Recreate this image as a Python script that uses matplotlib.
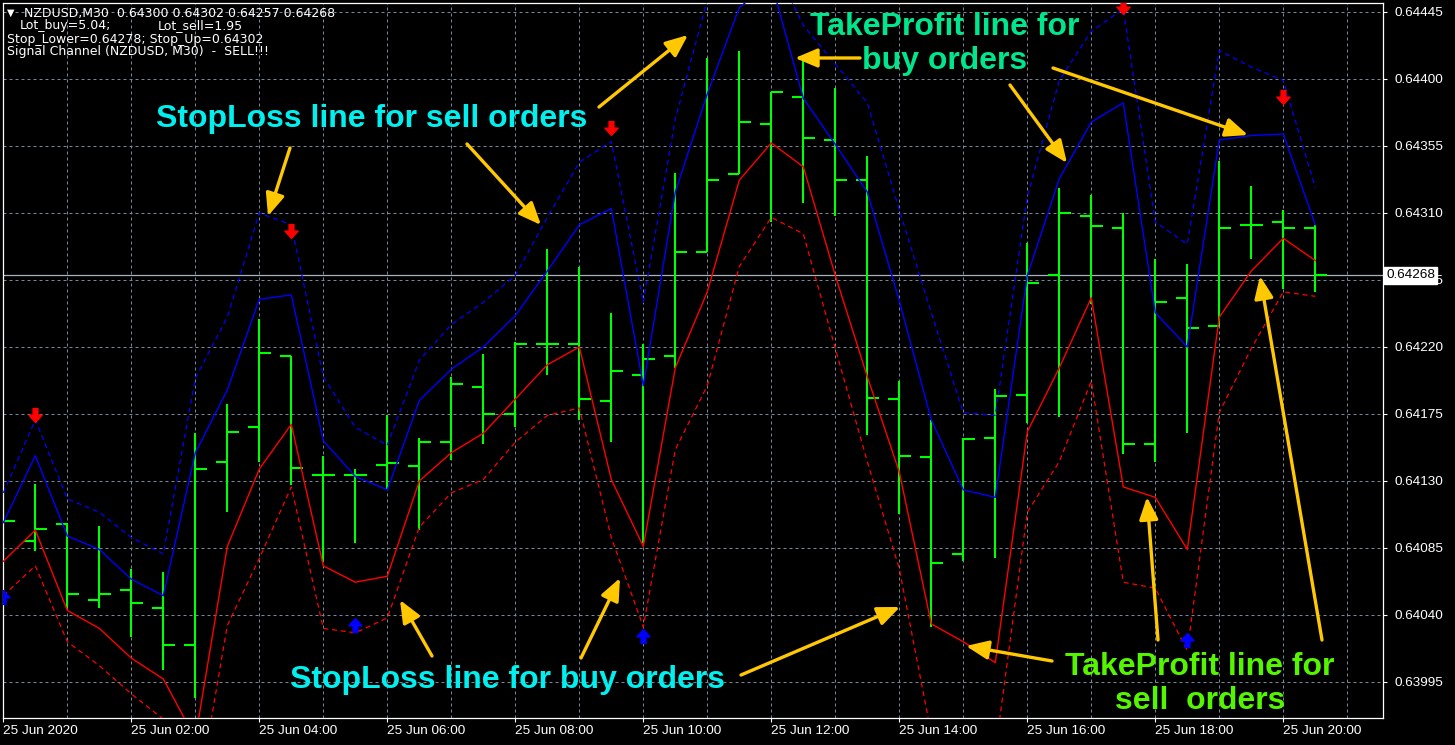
import numpy as np
import matplotlib.pyplot as plt
from matplotlib.path import Path
from matplotlib.transforms import blended_transform_factory

W, H = 1455, 745

# NZDUSD M30, 25 Jun 2020 00:00 .. 20:30
bar_open = [0.64112, 0.64090, 0.64101, 0.64050, 0.64057, 0.64045, 0.64020, 0.64143, 0.64166, 0.64214,
            0.64134, 0.64134, 0.64141, 0.64140, 0.64156, 0.64193, 0.64175, 0.64222, 0.64222, 0.64184,
            0.64201, 0.64214, 0.64284, 0.64336, 0.64370, 0.64388, 0.64359, 0.64332, 0.64185, 0.64146,
            0.64081, 0.64159, 0.64188, 0.64268, 0.64308, 0.64300, 0.64155, 0.64253, 0.64234, 0.64302,
            0.64304, 0.64300]
bar_high = [0.64122, 0.64128, 0.64102, 0.64100, 0.64071, 0.64069, 0.64162, 0.64182, 0.64239, 0.64214,
            0.64147, 0.64138, 0.64174, 0.64159, 0.64200, 0.64215, 0.64223, 0.64286, 0.64274, 0.64243,
            0.64222, 0.64337, 0.64414, 0.64419, 0.64391, 0.64412, 0.64394, 0.64348, 0.64197, 0.64171,
            0.64159, 0.64192, 0.64290, 0.64327, 0.64322, 0.64310, 0.64279, 0.64276, 0.64345, 0.64328,
            0.64312, 0.64302]
bar_low = [0.64079, 0.64083, 0.64045, 0.64045, 0.64025, 0.64003, 0.63984, 0.64109, 0.64143, 0.64127,
           0.64076, 0.64088, 0.64124, 0.64097, 0.64144, 0.64155, 0.64166, 0.64201, 0.64171, 0.64156,
           0.64088, 0.64206, 0.64284, 0.64336, 0.64304, 0.64317, 0.64308, 0.64161, 0.64108, 0.64032,
           0.64076, 0.64078, 0.64169, 0.64173, 0.64249, 0.64148, 0.64143, 0.64162, 0.64234, 0.64279,
           0.64259, 0.64257]
bar_close = [0.64103, 0.64098, 0.64054, 0.64054, 0.64048, 0.64020, 0.64138, 0.64163, 0.64216, 0.64139,
             0.64134, 0.64134, 0.64142, 0.64156, 0.64195, 0.64175, 0.64222, 0.64222, 0.64185, 0.64204,
             0.64212, 0.64284, 0.64332, 0.64371, 0.64391, 0.64360, 0.64332, 0.64186, 0.64147, 0.64075,
             0.64158, 0.64187, 0.64263, 0.64310, 0.64301, 0.64155, 0.64250, 0.64233, 0.64300, 0.64302,
             0.64300, 0.64268]

# channel lines
tp_buy = [0.64102, 0.64147, 0.64093, 0.64084, 0.64064, 0.64053, 0.64149, 0.64191, 0.64252, 0.64255,
          0.64157, 0.64133, 0.64124, 0.64184, 0.64205, 0.64220, 0.64241, 0.64271, 0.64302, 0.64313,
          0.64194, 0.64324, 0.64390, 0.64448, 0.64465, 0.64387, 0.64356, 0.64324, 0.64251, 0.64171,
          0.64124, 0.64119, 0.64268, 0.64333, 0.64371, 0.64384, 0.64243, 0.64220, 0.64359, 0.64362,
          0.64363, 0.64302]
sl_sell = [0.64122, 0.64171, 0.64118, 0.64109, 0.64092, 0.64081, 0.64199, 0.64240, 0.64310, 0.64302,
           0.64200, 0.64166, 0.64154, 0.64211, 0.64235, 0.64250, 0.64268, 0.64307, 0.64344, 0.64358,
           0.64250, 0.64373, 0.64453, 0.64483, 0.64480, 0.64436, 0.64410, 0.64384, 0.64312, 0.64243,
           0.64176, 0.64174, 0.64321, 0.64399, 0.64432, 0.64447, 0.64304, 0.64289, 0.64419, 0.64408,
           0.64399, 0.64327]
tp_sell = [0.64076, 0.64097, 0.64043, 0.64031, 0.64011, 0.63997, 0.63957, 0.64086, 0.64138, 0.64168,
           0.64073, 0.64062, 0.64066, 0.64130, 0.64149, 0.64162, 0.64185, 0.64208, 0.64220, 0.64131,
           0.64086, 0.64206, 0.64257, 0.64332, 0.64357, 0.64341, 0.64268, 0.64200, 0.64136, 0.64034,
           0.64022, 0.64008, 0.64163, 0.64206, 0.64253, 0.64126, 0.64119, 0.64084, 0.64240, 0.64271,
           0.64293, 0.64278]
sl_buy = [0.64053, 0.64073, 0.64022, 0.64006, 0.63987, 0.63970, 0.63907, 0.64033, 0.64078, 0.64126,
          0.64031, 0.64028, 0.64038, 0.64099, 0.64122, 0.64131, 0.64156, 0.64174, 0.64179, 0.64092,
          0.64032, 0.64151, 0.64194, 0.64274, 0.64307, 0.64296, 0.64219, 0.64143, 0.64071, 0.63960,
          0.63937, 0.63948, 0.64109, 0.64143, 0.64197, 0.64062, 0.64058, 0.64016, 0.64176, 0.64219,
          0.64257, 0.64254]

# signal arrows
sell_bars = [1, 9, 19, 35, 40]
sell_price = [0.64174, 0.64298, 0.64367, 0.64448, 0.64388]
buy_bars = [0, 11, 20, 37]
buy_price = [0.64052, 0.64033, 0.64026, 0.64023]

price_ticks = [0.63995, 0.64040, 0.64085, 0.64130, 0.64175, 0.64220, 0.64265,
               0.64310, 0.64355, 0.64400, 0.64445]
time_tick_bars = [0, 4, 8, 12, 16, 20, 24, 28, 32, 36, 40]
time_labels = ['25 Jun 2020', '25 Jun 02:00', '25 Jun 04:00', '25 Jun 06:00', '25 Jun 08:00',
               '25 Jun 10:00', '25 Jun 12:00', '25 Jun 14:00', '25 Jun 16:00', '25 Jun 18:00',
               '25 Jun 20:00']
last_price = 0.64268

fig = plt.figure(figsize=(W / 100, H / 100), dpi=100, facecolor='black')
ax = fig.add_axes([2.7 / W, 27 / H, (1383 - 2.7) / W, 715 / H])
ax.set_facecolor('black')
ax.set_xlim(-0.019, 43.116)
ax.set_ylim(0.639708, 0.644510)

grid_kw = dict(color='#778899', lw=0.72, ls=(0, (3, 3)), zorder=0.5)
for p in price_ticks:
    ax.axhline(p, **grid_kw)
for b in range(2, 44, 2):
    ax.axvline(b, **grid_kw)
ax.axhline(last_price, color='#A8B0BC', lw=0.9, zorder=1)

# OHLC bars
x = np.arange(len(bar_open))
tick = 0.36
bar_kw = dict(color='#00FF00', lw=1.5, zorder=2, capstyle='butt')
ax.vlines(x, bar_low, bar_high, **bar_kw)
ax.hlines(bar_open, x - tick, x, **bar_kw)
ax.hlines(bar_close, x, x + tick, **bar_kw)

# channel lines
ax.plot(x, tp_buy, color='#0000FF', lw=1.0, zorder=3)
ax.plot(x, sl_sell, color='#0000FF', lw=0.9, ls=(0, (4, 3)), zorder=3)
ax.plot(x, tp_sell, color='#FF0000', lw=1.0, zorder=3)
ax.plot(x, sl_buy, color='#FF0000', lw=0.9, ls=(0, (4, 3)), zorder=3)

# signal arrows
down = Path([(-0.35, 1), (0.35, 1), (0.35, 0.05), (0.95, 0.05), (0, -1), (-0.95, 0.05),
             (-0.35, 0.05), (-0.35, 1)], closed=True)
up = Path([(vx, -vy) for vx, vy in down.vertices], closed=True)
ax.plot(sell_bars, sell_price, ls='none', marker=down, ms=10, color='#FF0000', zorder=4)
ax.plot(buy_bars, buy_price, ls='none', marker=up, ms=10, color='#0000FF', zorder=4)

# axes styling
for s in ax.spines.values():
    s.set_color('white')
    s.set_linewidth(0.9)
ax.yaxis.tick_right()
ax.set_yticks(price_ticks)
ax.set_yticklabels([f'{p:.5f}' for p in price_ticks])
ax.set_xticks(time_tick_bars)
ax.set_xticklabels(time_labels, ha='left')
ax.tick_params(colors='white', labelcolor='white', length=3, width=0.8)
ax.tick_params(axis='y', pad=5, labelsize=9.7)
ax.tick_params(axis='x', pad=2, labelsize=9.7)
for lab in ax.get_xticklabels() + ax.get_yticklabels():
    lab.set_fontfamily('Liberation Sans')

tr = blended_transform_factory(ax.transAxes, ax.transData)
ax.text(1.0025, last_price, f'{last_price:.5f}', transform=tr, ha='left', va='center',
        fontsize=9.7, family='Liberation Sans', color='black', zorder=6,
        bbox=dict(facecolor='white', edgecolor='white', boxstyle='square,pad=0.15'))

# header
hdr = dict(color='white', fontsize=9, family='DejaVu Sans', va='center')
fig.text(7 / W, 1 - 13 / H, '\u25BC', fontsize=7, color='white', va='center')
fig.text(24 / W, 1 - 13 / H, 'NZDUSD,M30  0.64300 0.64302 0.64257 0.64268', **hdr)
fig.text(20 / W, 1 - 26 / H, 'Lot_buy=5.04;', **hdr)
fig.text(158 / W, 1 - 26 / H, 'Lot_sell=1.95', **hdr)
fig.text(7 / W, 1 - 39 / H, 'Stop_Lower=0.64278; Stop_Up=0.64302', **hdr)
fig.text(7 / W, 1 - 51 / H, 'Signal Channel (NZDUSD, M30)  -  SELL!!!', **hdr)

# annotations
big = dict(fontsize=23, family='Liberation Sans', weight='bold', ha='center', va='center',
           zorder=7, linespacing=1.2)
cyan, tp_green, sell_green = '#00F0F0', '#00E68C', '#55F500'
fig.text(372 / W, 1 - 119 / H, 'StopLoss line for sell orders', color=cyan, **big)
fig.text(508 / W, 1 - 680 / H, 'StopLoss line for buy orders', color=cyan, **big)
fig.text(945 / W, 1 - 44 / H, 'TakeProfit line for\nbuy orders', color=tp_green, **big)
fig.text(1200 / W, 1 - 684 / H, 'TakeProfit line for\nsell  orders', color=sell_green, **big)

pointers = [((290, 148), (268, 216)), ((467, 144), (541, 225)), ((599, 107), (688, 35)),
            ((860, 58), (795, 58)), ((1010, 85), (1067, 163)), ((1053, 68), (1248, 135)),
            ((432, 656), (400, 600)), ((581, 658), (620, 578)), ((741, 675), (900, 607)),
            ((1052, 661), (966, 646)), ((1158, 640), (1147, 497)), ((1322, 640), (1260, 276))]
for (tx, ty), (hx, hy) in pointers:
    ax.annotate('', xy=(hx, H - hy), xytext=(tx, H - ty), xycoords='figure pixels',
                textcoords='figure pixels', zorder=8,
                arrowprops=dict(arrowstyle='-|>,head_length=0.9,head_width=0.38', lw=2.4,
                                color='#FFC800', shrinkA=0, shrinkB=0, mutation_scale=15))

fig.savefig('out.png', dpi=100, facecolor='black')
